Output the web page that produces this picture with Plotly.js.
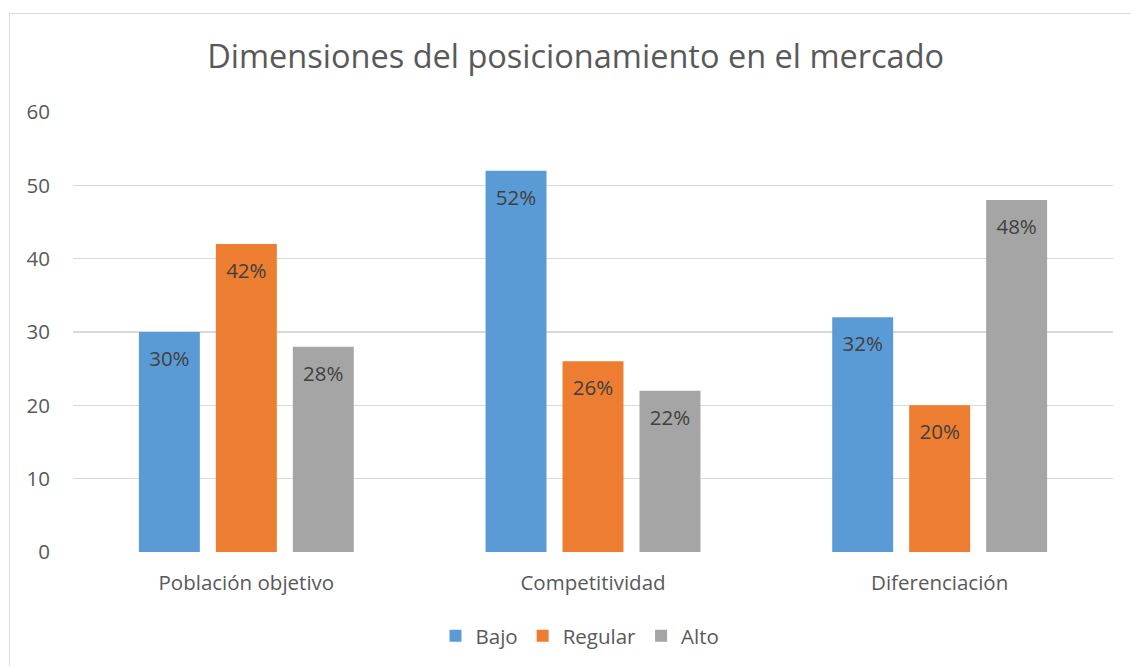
<!DOCTYPE html>
<html><head><meta charset="utf-8">
<script src="https://cdn.plot.ly/plotly-3.0.1.min.js"></script>
<style>
html,body{margin:0;padding:0;background:#fff;}
#frame{position:absolute;left:9px;top:13px;width:1130px;height:660px;border:1px solid #d9d9d9;box-sizing:border-box;}
#chart{position:absolute;left:0;top:0;width:1131px;height:666px;}
</style></head>
<body>
<div id="frame"></div>
<div id="chart"></div>
<script>
const categories = ["Población objetivo", "Competitividad", "Diferenciación"];
const seriesNames = ["Bajo", "Regular", "Alto"];
const bajo = [30, 52, 32];
const regular = [42, 26, 20];
const alto = [28, 22, 48];
const colors = ["#5B9BD5", "#ED7D31", "#A5A5A5"];
const yTicks = [0, 10, 20, 30, 40, 50, 60];
const FONT = "'Open Sans', sans-serif";
const GAP = 0.334;

const values = [bajo, regular, alto];
const bars = seriesNames.map((name, i) => ({
  type: "bar",
  name: name,
  x: categories,
  y: values[i],
  marker: {color: colors[i]},
  hoverinfo: "none"
}));
const labels = seriesNames.map((name, i) => ({
  type: "scatter",
  mode: "markers+text",
  name: name + " etiqueta",
  showlegend: false,
  x: categories,
  y: values[i],
  text: values[i].map(v => v + "%"),
  textposition: "bottom center",
  textfont: {family: FONT, size: 20.5, color: "#404040"},
  marker: {size: 28, opacity: 0, color: colors[i]},
  cliponaxis: false,
  hoverinfo: "none"
}));

const layout = {
  width: 1131, height: 666,
  paper_bgcolor: "rgba(0,0,0,0)",
  plot_bgcolor: "rgba(0,0,0,0)",
  margin: {l: 73, r: 18, t: 112, b: 114},
  font: {family: FONT, color: "#595959"},
  title: {text: "Dimensiones del posicionamiento en el mercado", font: {family: FONT, size: 32.5, color: "#595959"},
          xref: "container", x: 0.509, xanchor: "center", yref: "container", y: 1 - 57/666, yanchor: "middle"},
  barmode: "group",
  bargap: GAP,
  bargroupgap: 0.208,
  scattermode: "group",
  scattergap: GAP,
  xaxis: {
    type: "category",
    showgrid: false, zeroline: false, showline: false,
    ticks: "", tickfont: {family: FONT, size: 20.5, color: "#595959"},
    ticklabelstandoff: 16
  },
  yaxis: {
    range: [0, 60], tickvals: yTicks, ticktext: yTicks.map(String),
    showgrid: true, gridcolor: "#d9d9d9", gridwidth: 1.3,
    zeroline: false, showline: false, ticks: "",
    tickfont: {family: FONT, size: 20.5, color: "#595959"},
    ticklabelstandoff: 22
  },
  showlegend: true,
  legend: {orientation: "h", xref: "container", yref: "container", x: 580/1131, xanchor: "center",
           y: 1 - 636/666, yanchor: "middle", font: {family: FONT, size: 20.5, color: "#595959"},
           itemwidth: 30, traceorder: "normal"}
};

Plotly.newPlot("chart", bars.concat(labels), layout, {staticPlot: true, displayModeBar: false});
</script>
</body></html>
